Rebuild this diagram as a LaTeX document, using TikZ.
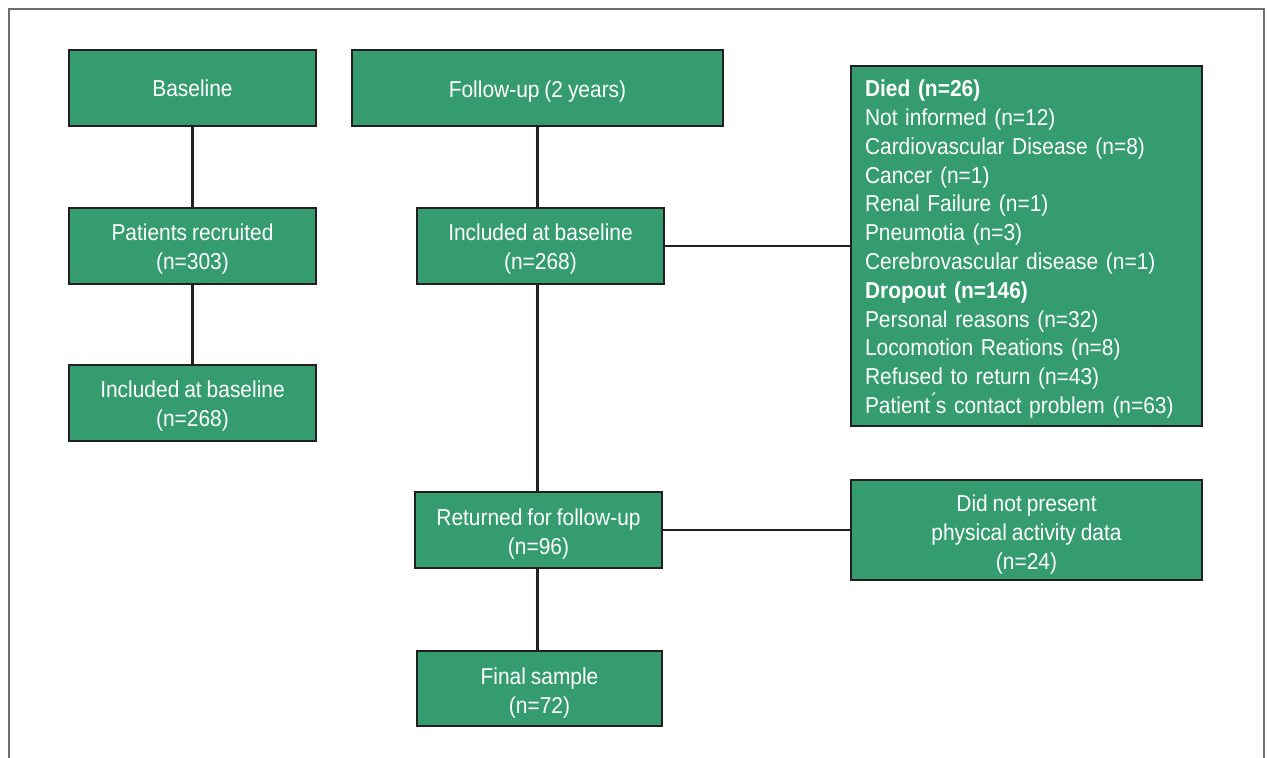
\documentclass[tikz,border=0pt]{standalone}
\usepackage{fontspec}
\setmainfont{Liberation Sans}[FakeStretch=0.91,WordSpace=0.85]
\definecolor{boxgreen}{HTML}{349C6F}
\definecolor{edge}{HTML}{231F20}
\definecolor{framegray}{HTML}{6D6E70}
\newcommand{\lift}[1]{\rule{0pt}{#1pt}}
\begin{document}
\begin{tikzpicture}[x=1pt,y=-1pt,
  gbox/.style={draw=edge,line width=2.5pt,fill=boxgreen,text=white,inner sep=0pt,
     font=\fontsize{23}{29}\selectfont,align=center},
  conn/.style={draw=edge,line width=2.2pt}]
\useasboundingbox (0,0) rectangle (1267,758);
\draw[framegray,line width=1.5pt] (9,758) -- (9,9) -- (1264,9) -- (1264,758);
\node[gbox,minimum width=247pt,minimum height=76pt] (base) at (192.5,88) {Baseline};
\node[gbox,minimum width=371pt,minimum height=76pt] (fu) at (537.5,88) {\lift{23}Follow-up (2 years)};
\node[gbox,minimum width=247pt,minimum height=76pt] (rec) at (192.5,246) {\lift{23}Patients recruited\\(n=303)};
\node[gbox,minimum width=247pt,minimum height=76pt] (incl) at (192.5,403) {\lift{23}Included at baseline\\(n=268)};
\node[gbox,minimum width=247pt,minimum height=76pt] (incm) at (540.5,246) {\lift{23}Included at baseline\\(n=268)};
\node[gbox,minimum width=351pt,minimum height=360pt,align=left,text width=323pt,font=\fontsize{23}{28.8}\selectfont] (died) at (1026.5,246) {\lift{23}\textbf{Died (n=26)}\\Not informed (n=12)\\Cardiovascular Disease (n=8)\\Cancer (n=1)\\Renal Failure (n=1)\\Pneumotia (n=3)\\Cerebrovascular disease (n=1)\\\textbf{Dropout (n=146)}\\Personal reasons (n=32)\\Locomotion Reations (n=8)\\Refused to return (n=43)\\Patient\'{}s contact problem (n=63)};
\node[gbox,minimum width=247pt,minimum height=76pt] (ret) at (538.5,530) {\lift{25}Returned for follow-up\\(n=96)};
\node[gbox,minimum width=351pt,minimum height=100pt] (nopa) at (1026.5,530) {\lift{26}Did not present\\physical activity data\\(n=24)};
\node[gbox,minimum width=245pt,minimum height=75pt] (fin) at (539.5,688.5) {\lift{25}Final sample\\(n=72)};
\draw[conn] (base) -- (rec);
\draw[conn] (rec) -- (incl);
\draw[conn] (fu.south) -- (fu.south |- incm.north);
\draw[conn] (fu.south |- incm.south) -- (fu.south |- ret.north);
\draw[conn] (fu.south |- ret.south) -- (fu.south |- fin.north);
\draw[conn] (incm.east) -- (incm.east -| died.west);
\draw[conn] (ret.east) -- (ret.east -| nopa.west);
\end{tikzpicture}
\end{document}
